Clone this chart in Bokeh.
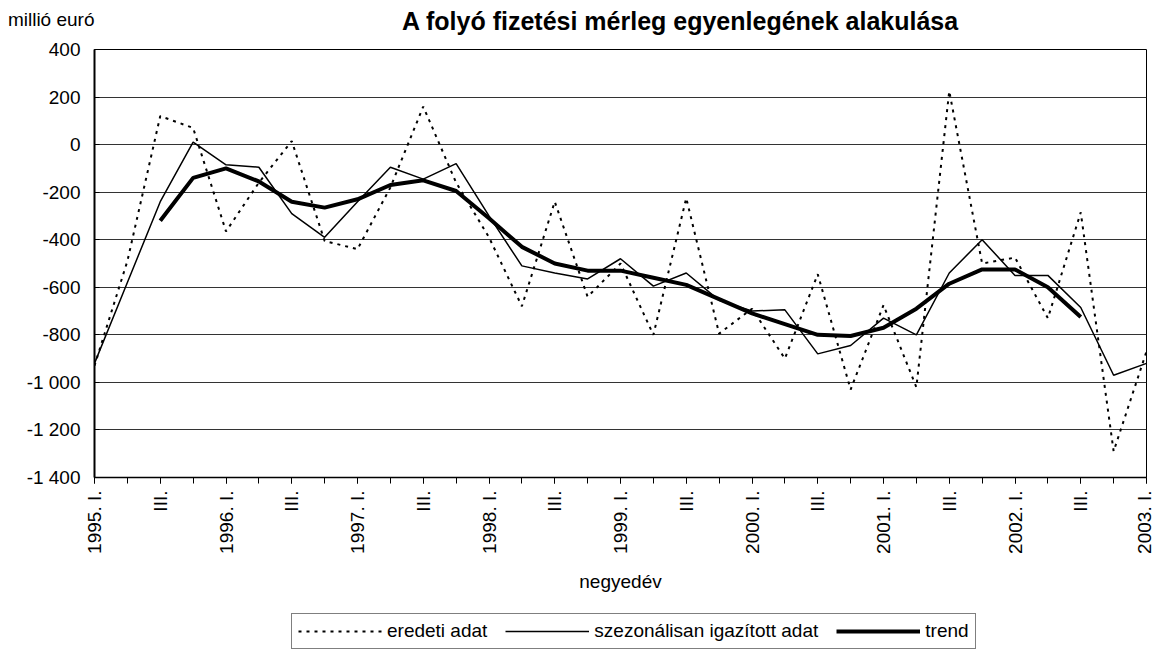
import math
from bokeh.plotting import figure
from bokeh.layouts import column
from bokeh.models import Range1d, FixedTicker, Legend, LegendItem
from bokeh.core.properties import value
from bokeh.embed import file_html
from bokeh.resources import INLINE

# ---- data -------------------------------------------------------------
quarters = list(range(33))  # 1995 I .. 2003 I

x_tick_labels = ["1995. I.", "III.", "1996. I.", "III.", "1997. I.", "III.",
                 "1998. I.", "III.", "1999. I.", "III.", "2000. I.", "III.",
                 "2001. I.", "III.", "2002. I.", "III.", "2003. I."]

y_ticks = [-1400, -1200, -1000, -800, -600, -400, -200, 0, 200, 400]
y_tick_labels = ["-1 400", "-1 200", "-1 000", "-800", "-600", "-400",
                 "-200", "0", "200", "400"]

eredeti = [-930, -490, 120, 70, -365, -160, 15, -405, -440, -180, 160,
           -160, -390, -680, -240, -640, -500, -800, -225, -795, -690,
           -900, -545, -1030, -675, -1020, 225, -500, -475, -730, -285,
           -1290, -870]

szezonalis = [-920, -580, -240, 10, -85, -95, -290, -390, -240, -95, -145,
              -80, -300, -510, -540, -565, -480, -595, -540, -655, -700,
              -695, -880, -845, -730, -800, -540, -400, -550, -550, -685,
              -970, -920]

nan = float("nan")
trend = [nan, nan, -320, -140, -100, -155, -240, -265, -230, -170, -150,
         -195, -310, -430, -500, -530, -530, -560, -590, -650, -710,
         -755, -800, -805, -770, -690, -585, -525, -525, -600, -725,
         nan, nan]

title_text = "A folyó fizetési mérleg egyenlegének alakulása"
y_unit_text = "millió euró"
x_axis_text = "negyedév"
legend_labels = ["eredeti adat", "szezonálisan igazított adat", "trend"]

# line styles shared by the chart and the legend
styles = [dict(line_color="black", line_width=2, line_dash="3 5"),
          dict(line_color="black", line_width=1.5),
          dict(line_color="black", line_width=4)]

FONT = "Liberation Sans"
HEAD_H = 37
FOOT_H = 55
FRAME_W = 1052


def bare(fig):
    fig.axis.visible = False
    fig.grid.visible = False
    fig.outline_line_color = None
    fig.background_fill_color = "white"
    fig.border_fill_color = "white"


# ---- header (title + unit); its frame is aligned with the chart's ------
head = figure(frame_width=FRAME_W, frame_height=HEAD_H,
              x_range=Range1d(94, 94 + FRAME_W),
              y_range=Range1d(HEAD_H, 0), output_backend="svg",
              toolbar_location=None, min_border_left=94,
              min_border_right=8, min_border_top=0, min_border_bottom=0)
bare(head)
hy = head.yaxis[0]
hy.visible = True
hy.ticker = FixedTicker(ticks=[])
hy.axis_line_color = None
hy.major_tick_line_color = None
hy.minor_tick_line_color = None
hy.axis_label = y_unit_text
hy.axis_label_orientation = "horizontal"
hy.axis_label_text_font = FONT
hy.axis_label_text_font_size = "19px"
hy.axis_label_text_font_style = "normal"
hy.axis_label_text_color = "black"
hy.axis_label_standoff = 0
head.text(x=[680], y=[20], text=[title_text], text_font=value(FONT),
          text_font_size="25px", text_font_style="bold",
          text_align="center", text_baseline="alphabetic", text_color="black")

# ---- main chart -------------------------------------------------------
p = figure(frame_width=FRAME_W, frame_height=428,
           x_range=Range1d(0, 32), y_range=Range1d(-1400, 400),
           output_backend="svg", toolbar_location=None,
           min_border_left=94, min_border_right=8,
           min_border_top=12, min_border_bottom=0)
p.background_fill_color = "white"
p.border_fill_color = "white"
p.outline_line_color = "black"
p.outline_line_width = 1

series_list = [eredeti, szezonalis, trend]
for series, st in zip(series_list, styles):
    p.line(quarters, series, **st)

# x axis
xa = p.xaxis[0]
xa.ticker = FixedTicker(ticks=list(range(0, 33, 2)), minor_ticks=quarters)
xa.major_label_overrides = {i * 2: lab for i, lab in enumerate(x_tick_labels)}
xa.major_label_orientation = math.pi / 2
xa.major_label_text_font = FONT
xa.major_label_text_font_size = "19px"
xa.major_label_text_color = "black"
xa.major_label_standoff = 7
xa.major_tick_out = 6
xa.major_tick_in = 0
xa.minor_tick_out = 6
xa.minor_tick_in = 0
xa.axis_line_width = 1.5
xa.axis_label = x_axis_text
xa.axis_label_text_font = FONT
xa.axis_label_text_font_size = "19px"
xa.axis_label_text_font_style = "normal"
xa.axis_label_text_color = "black"
xa.axis_label_standoff = 14

# y axis
ya = p.yaxis[0]
ya.ticker = FixedTicker(ticks=y_ticks)
ya.major_label_overrides = dict(zip(y_ticks, y_tick_labels))
ya.major_label_text_font = FONT
ya.major_label_text_font_size = "19px"
ya.major_label_text_color = "black"
ya.major_label_standoff = 14
ya.major_tick_out = 0
ya.major_tick_in = 5
ya.minor_tick_out = 0
ya.minor_tick_in = 0
ya.axis_line_width = 2

p.xgrid.visible = False
p.ygrid.ticker = FixedTicker(ticks=y_ticks)
p.ygrid.grid_line_color = "#333333"
p.ygrid.grid_line_width = 1

# ---- footer with the legend --------------------------------------------
# the same series are drawn here, outside this strip's visible range,
# only so that the legend has renderers of the right style
foot = figure(frame_width=FRAME_W, frame_height=FOOT_H,
              x_range=Range1d(0, 32), y_range=Range1d(5000, 6000),
              output_backend="svg", toolbar_location=None,
              min_border_left=94, min_border_right=8,
              min_border_top=0, min_border_bottom=0)
bare(foot)
proxies = [foot.line(quarters, series, **st)
           for series, st in zip(series_list, styles)]

legend = Legend(items=[LegendItem(label=lab, renderers=[r])
                       for lab, r in zip(legend_labels, proxies)],
                orientation="horizontal", location=(197, 0), margin=0,
                glyph_width=84, glyph_height=20, label_standoff=5,
                spacing=18, padding=6, label_text_font=FONT,
                label_text_font_size="19px", label_text_color="black",
                border_line_color="black", border_line_width=1,
                background_fill_alpha=1.0)
foot.add_layout(legend, "center")

page = column(head, p, foot, spacing=0)
open("out.html", "w").write(file_html(page, INLINE))
